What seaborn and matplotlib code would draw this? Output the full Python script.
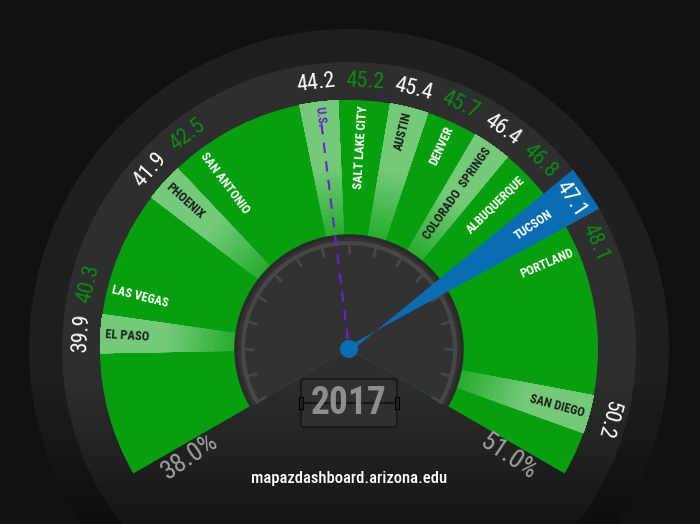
import numpy as np
import matplotlib
matplotlib.use("Agg")
import matplotlib.pyplot as plt
from matplotlib import font_manager
from matplotlib.patches import Circle, FancyBboxPatch, Rectangle
import seaborn as sns

# data: share of something (%) by city, 2017
cities = ['EL PASO', 'LAS VEGAS', 'PHOENIX', 'SAN ANTONIO', 'U.S.', 'SALT LAKE CITY',
          'AUSTIN', 'DENVER', 'COLORADO  SPRINGS', 'ALBUQUERQUE', 'TUCSON',
          'PORTLAND', 'SAN DIEGO']
values = [39.9, 40.3, 41.9, 42.5, 44.2, 45.2, 45.4, 45.7, 46.4, 46.8, 47.1, 48.1, 50.2]
highlight = 'TUCSON'
reference = 'U.S.'
year = '2017'
scale_min, scale_max = 38.0, 51.0
source = 'mapazdashboard.arizona.edu'

sns.set_theme(style='dark')
installed = {f.name for f in font_manager.fontManager.ttflist}
narrow = next((n for n in ['Liberation Sans Narrow', 'Roboto Condensed', 'Open Sans Condensed']
               if n in installed), None)
base = narrow if narrow else 'Roboto'
plt.rcParams['font.family'] = [base, 'DejaVu Sans']

GREEN = '#06a00f'
BLUE = '#0a6db3'
PURPLE = '#6a20d8'
W, H = 700, 524
cx, cy = 349, 349
R = 330
r_green, r_bezel, r_outer, r_inner = 249, 287, 320, 114

fig = plt.figure(figsize=(7, 5.24), dpi=100, facecolor='#111111')

# background: outer disk + bezel ring, darkened toward the bottom
bg = fig.add_axes([0, 0, 1, 1], zorder=0)
bg.set_xlim(0, W)
bg.set_ylim(H, 0)
bg.set_axis_off()
outer = Circle((cx, cy), r_outer, fc='#1f1f1f', ec='none')
bg.add_patch(outer)
bg.add_patch(Circle((cx, cy), r_bezel, fc='#2e2e2e', ec='none'))
yy = np.arange(H)
alpha = np.clip((yy - 380) / (H - 380), 0, 1) * 0.55
grad = np.zeros((H, 1, 4))
grad[:, 0, 3] = alpha
im = bg.imshow(grad, extent=[0, W, H, 0], aspect='auto', zorder=3)
im.set_clip_path(outer)


# value -> angle (degrees), linear over 240 degrees
def to_angle(v):
    return 210 - (v - scale_min) / (scale_max - scale_min) * 240


def spread(angles, gap):
    # push crowded neighbours apart so labels don't overlap
    clusters = [[a] for a in angles]
    merged = True
    while merged:
        merged = False
        out = [clusters[0]]
        for c in clusters[1:]:
            prev = out[-1]
            top_c = np.mean(c) + gap * (len(c) - 1) / 2
            bot_p = np.mean(prev) - gap * (len(prev) - 1) / 2
            if bot_p - top_c < gap:
                out[-1] = prev + c
                merged = True
            else:
                out.append(c)
        clusters = out
    res = []
    for c in clusters:
        m, k = np.mean(c), len(c)
        res += [m + gap * ((k - 1) / 2 - j) for j in range(k)]
    return res


ang = spread([to_angle(v) for v in values], 10.5)
a0, a1 = to_angle(scale_min), to_angle(scale_max)

ax = fig.add_axes([(cx - R) / W, (H - cy - R) / H, 2 * R / W, 2 * R / H],
                  projection='polar', zorder=1)
ax.set_ylim(0, R)
ax.set_axis_off()
ax.patch.set_alpha(0)

# green gauge face
ax.bar(np.deg2rad((a0 + a1) / 2), r_green, width=np.deg2rad(a0 - a1), bottom=0,
       color=GREEN, edgecolor='none', zorder=1)

# lighter bands for every other city, fading toward the dial
band_w = np.deg2rad(9)
g = np.array(matplotlib.colors.to_rgb(GREEN))
edges = np.linspace(r_inner - 4, r_green, 28)
for i, (name, a) in enumerate(zip(cities, ang)):
    if i % 2 or name == highlight:
        continue
    for r0 in edges[:-1]:
        t = np.clip((r0 - (r_inner - 4)) / 70, 0, 1)
        a_ = 0.12 + 0.32 * t
        ax.bar(np.deg2rad(a), r_green - r0, width=band_w, bottom=r0,
               color=g * (1 - a_) + a_, edgecolor='none', zorder=2)

# inner dial
ax.bar(np.deg2rad((a0 + a1) / 2), r_inner, width=np.deg2rad(a0 - a1), bottom=0,
       color='#323232', edgecolor='none', zorder=3)
th = np.deg2rad(np.linspace(a1, a0, 200))
ax.plot(th, np.full_like(th, r_inner - 1), color='#2a2a2a', lw=2.5, zorder=3)
ax.plot(th, np.full_like(th, 106), color='#474747', lw=3, zorder=4)
for t in np.linspace(a0, a1, 17):
    ax.plot([np.deg2rad(t)] * 2, [96, 106], color='#474747', lw=2, zorder=4)

# reference line (U.S.)
ia = cities.index(reference)
ax.plot([np.deg2rad(ang[ia])] * 2, [10, 230], color=PURPLE, lw=1.5,
        dashes=(5, 4), zorder=5)

# highlighted city needle
ih = cities.index(highlight)
th_h = np.deg2rad(ang[ih])
d = np.deg2rad(4.7)
ax.fill([th_h + np.pi / 2, th_h - d, th_h + d, th_h - np.pi / 2], [3, r_bezel, r_bezel, 3],
        color=BLUE, zorder=6, lw=0)
ax.bar(0, 9, width=2 * np.pi, bottom=0, color=BLUE, edgecolor='none', zorder=7)

# labels
for i, (name, v, a) in enumerate(zip(cities, values, ang)):
    t = np.deg2rad(a)
    if name == reference:
        col = PURPLE
    elif name == highlight or i % 2:
        col = 'white'
    else:
        col = '#1c1c1c'
    if a > 90:
        rot, ha = a - 180, 'left'
    else:
        rot, ha = a, 'right'
    ax.text(t, 244, name, rotation=rot, ha=ha, va='center', rotation_mode='anchor',
            color=col, fontsize=9, fontweight='bold', zorder=8)
    vcol = 'white' if (i % 2 == 0 or name == highlight) else '#0a8c12'
    ax.text(t, 268, f'{v:.1f}', rotation=a - 90, ha='center', va='center',
            rotation_mode='anchor', color=vcol, fontsize=16, zorder=8)

ax.text(np.deg2rad(a0 + 4), 192, f'{scale_min:.1f}%', rotation=a0 + 4 - 180, ha='center',
        va='center', rotation_mode='anchor', color='#a0a0a0', fontsize=19, zorder=8)
ax.text(np.deg2rad(a1 - 4), 192, f'{scale_max:.1f}%', rotation=a1 - 4, ha='center',
        va='center', rotation_mode='anchor', color='#a0a0a0', fontsize=19, zorder=8)

# year counter and source
ov = fig.add_axes([0, 0, 1, 1], zorder=2)
ov.set_xlim(0, W)
ov.set_ylim(H, 0)
ov.set_axis_off()
ov.patch.set_alpha(0)
ov.add_patch(FancyBboxPatch((301, 379), 96, 48, boxstyle='round,pad=0,rounding_size=3',
                            fc='#303030', ec='#1a1a1a', lw=1.5))
ov.text(cx, 404, year, ha='center', va='center', color='#8e8e8e', fontsize=27,
        fontweight='bold')
ov.plot([302, 396], [403, 403], color='#111111', lw=1.2)
ov.add_patch(Rectangle((299, 397), 4, 12, fc='#222222', ec='#000000', lw=0.8))
ov.add_patch(Rectangle((395, 397), 4, 12, fc='#222222', ec='#000000', lw=0.8))
ov.text(cx, 479, source, ha='center', va='center', color='white', fontsize=12,
        fontweight='medium')

fig.savefig('out.png', dpi=100, facecolor='#111111')
